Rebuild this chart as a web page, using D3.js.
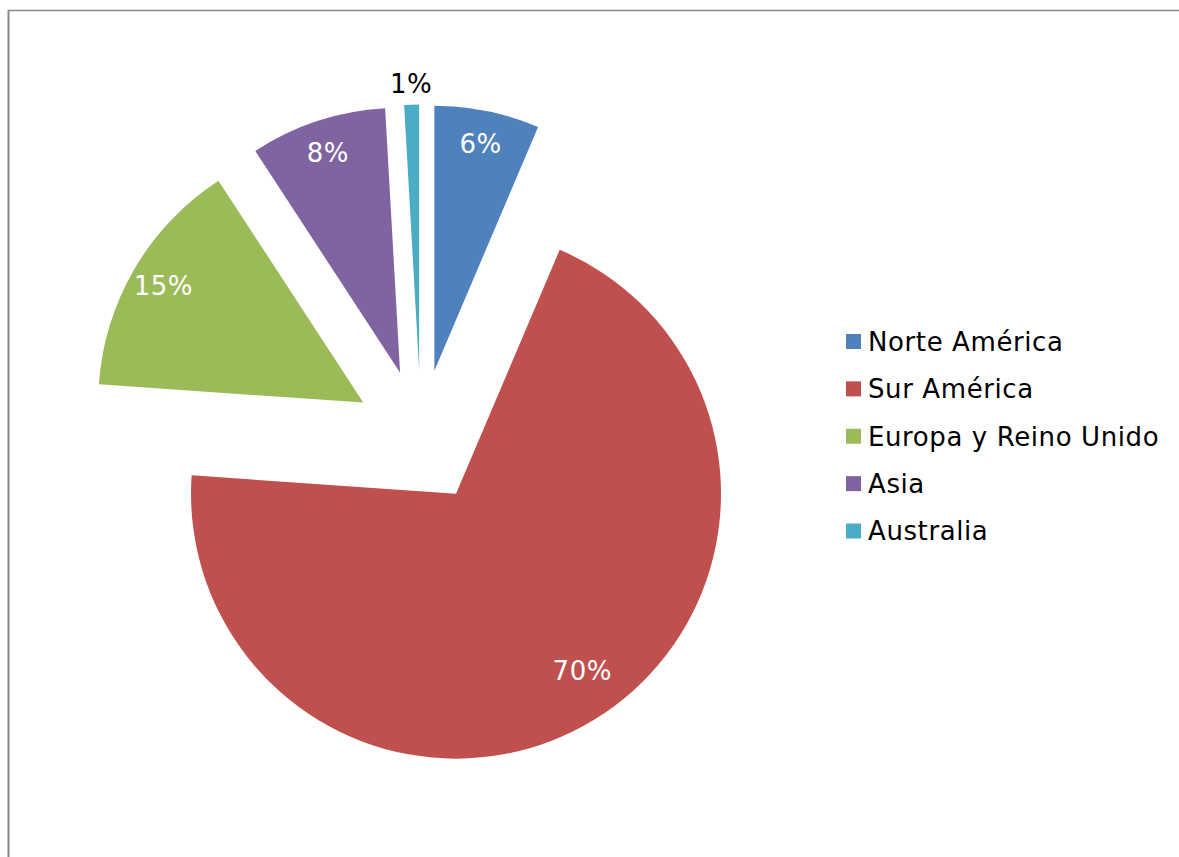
<!DOCTYPE html>
<html>
<head>
<meta charset="utf-8">
<script src="https://cdn.jsdelivr.net/npm/d3@7"></script>
<style>
  html, body { margin: 0; padding: 0; background: #ffffff; }
  svg { display: block; }
</style>
</head>
<body>
<script>
// Regions and their share of the total (percent)
const regions = ["Norte América", "Sur América", "Europa y Reino Unido", "Asia", "Australia"];
const shares = [6.4, 69.7, 14.7, 8.3, 0.9];
const colors = ["#4F81BD", "#C0504D", "#9BBB59", "#8064A2", "#4BACC6"];

const width = 1179, height = 857;
const cx = 421, cy = 436.5;      // pie centre
const radius = 265;
const explode = 67;              // every slice pulled out from the centre
const fontFamily = "'DejaVu Sans', sans-serif";

const svg = d3.select("body").append("svg")
  .attr("width", width)
  .attr("height", height);

// chart area frame (top and left edges visible)
svg.append("line").attr("x1", 8).attr("x2", width).attr("y1", 10.5).attr("y2", 10.5)
  .attr("stroke", "#878787").attr("stroke-width", 1.3);
svg.append("line").attr("x1", 8.5).attr("x2", 8.5).attr("y1", 10).attr("y2", height)
  .attr("stroke", "#878787").attr("stroke-width", 2);

const data = regions.map((name, i) => ({ name, value: shares[i], color: colors[i] }));
const total = d3.sum(shares);

const pie = d3.pie().value(d => d.value).sort(null);
const arc = d3.arc().innerRadius(0).outerRadius(radius);
const arcs = pie(data);

const g = svg.append("g").attr("transform", `translate(${cx},${cy})`);

const mid = d => (d.startAngle + d.endAngle) / 2;
const offset = (d, dist, angle) => {
  const a = angle === undefined ? mid(d) : angle;
  return [Math.sin(a) * dist, -Math.cos(a) * dist];
};

const slices = g.selectAll("g.slice").data(arcs).join("g")
  .attr("class", "slice")
  .attr("transform", d => `translate(${offset(d, explode)})`);

slices.append("path")
  .attr("d", arc)
  .attr("fill", d => d.data.color);

// percentage labels: inside the slice, or just outside for very thin slices;
// the dominant slice keeps its label a little further in
const share = d => d.data.value / total;
const fmt = d => Math.round(share(d) * 100) + "%";
const isInside = d => (d.endAngle - d.startAngle) > 0.15;
slices.append("text")
  .attr("transform", d => {
    let pos;
    if (!isInside(d)) pos = offset(d, radius * 1.08);
    else if (share(d) > 0.5) pos = offset(d, radius * 0.82, mid(d) - 0.07);
    else pos = offset(d, radius * 0.875);
    return `translate(${pos})`;
  })
  .attr("text-anchor", "middle")
  .attr("dy", "0.36em")
  .attr("font-family", fontFamily)
  .attr("font-size", 26)
  .attr("letter-spacing", 0.5)
  .attr("fill", d => isInside(d) ? "#ffffff" : "#000000")
  .text(fmt);

// legend
const legendY = d3.scalePoint().domain(regions).range([341.5, 531]);
const legend = svg.append("g");
const items = legend.selectAll("g").data(data).join("g")
  .attr("transform", d => `translate(846,${legendY(d.name)})`);
items.append("rect")
  .attr("x", 0).attr("y", -7.5)
  .attr("width", 15).attr("height", 15)
  .attr("fill", d => d.color);
items.append("text")
  .attr("x", 22)
  .attr("dy", "0.36em")
  .attr("font-family", fontFamily)
  .attr("font-size", 26)
  .attr("letter-spacing", 0.6)
  .attr("fill", "#000000")
  .text(d => d.name);
</script>
</body>
</html>
